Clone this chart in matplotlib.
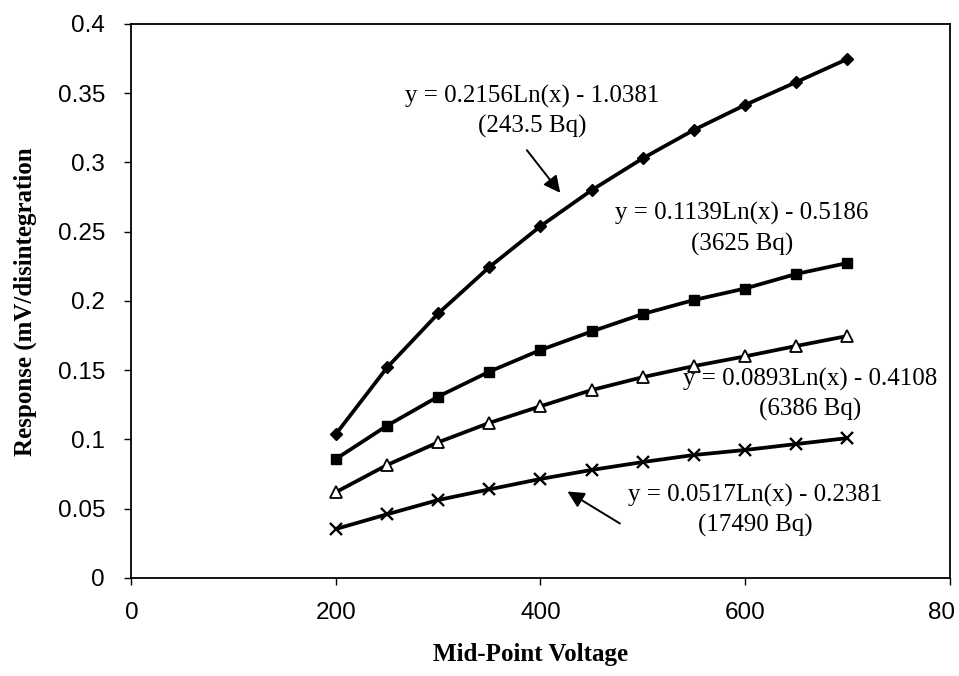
import matplotlib
matplotlib.use("Agg")
import matplotlib.pyplot as plt
import matplotlib.transforms as mtransforms

voltage = [200, 250, 300, 350, 400, 450, 500, 550, 600, 650, 700]
resp_2435 = [0.104, 0.152, 0.191, 0.2245, 0.254, 0.280, 0.303, 0.3235, 0.3415, 0.358, 0.3747]
resp_3625 = [0.086, 0.110, 0.131, 0.149, 0.1646, 0.178, 0.1906, 0.2007, 0.209, 0.2195, 0.2274]
resp_6386 = [0.062, 0.0816, 0.098, 0.112, 0.124, 0.1357, 0.145, 0.153, 0.160, 0.1675, 0.1747]
resp_17490 = [0.0354, 0.046, 0.0563, 0.064, 0.0715, 0.078, 0.0837, 0.0888, 0.0924, 0.0967, 0.101]

x_ticks = [0, 200, 400, 600, 800]
x_tick_labels = ["0", "200", "400", "600", "80"]
y_ticks = [0, 0.05, 0.1, 0.15, 0.2, 0.25, 0.3, 0.35, 0.4]
y_tick_labels = ["0", "0.05", "0.1", "0.15", "0.2", "0.25", "0.3", "0.35", "0.4"]

labels = [
    "y = 0.2156Ln(x) - 1.0381\n(243.5 Bq)",
    "y = 0.1139Ln(x) - 0.5186\n(3625 Bq)",
    "y = 0.0893Ln(x) - 0.4108\n(6386 Bq)",
    "y = 0.0517Ln(x) - 0.2381\n(17490 Bq)",
]

fig = plt.figure(figsize=(9.59, 6.76), dpi=100)
ax = fig.add_axes([0.1371, 0.145, 0.853, 0.8195])

lw = 2.7
ax.plot(voltage, resp_2435, color="black", lw=lw, marker="D", ms=6.5, mfc="black", mec="black")
ax.plot(voltage, resp_3625, color="black", lw=lw, marker="s", ms=7, mfc="black", mec="black")
ax.plot(voltage, resp_6386, color="black", lw=lw, marker="^", ms=8, mfc="white", mec="black", mew=1.3)
ax.plot(voltage, resp_17490, color="black", lw=lw, marker="x", ms=8, mec="black", mew=1.7)

ax.set_xlim(0, 800)
ax.set_ylim(0, 0.4)
ax.set_xticks(x_ticks)
ax.set_xticklabels(x_tick_labels)
ax.set_yticks(y_ticks)
ax.set_yticklabels(y_tick_labels)
for lab in ax.get_xticklabels() + ax.get_yticklabels():
    lab.set_fontfamily("Liberation Sans")
    lab.set_fontsize(17.5)
ax.tick_params(axis="both", direction="out", length=5, width=1, color="black")
ax.tick_params(axis="x", pad=12)
ax.tick_params(axis="y", pad=14)
last = ax.get_xticklabels()[-1]
last.set_transform(last.get_transform() + mtransforms.ScaledTranslation(-6 / 72, 0, fig.dpi_scale_trans))
for s in ax.spines.values():
    s.set_linewidth(1.3)
    s.set_color("black")

ax.set_xlabel("Mid-Point Voltage", fontfamily="Liberation Serif", fontweight="bold", fontsize=18)
ax.xaxis.label.set_verticalalignment("center")
ax.xaxis.set_label_coords(0.488, -0.139)
ax.set_ylabel("Response (mV/disintegration", fontfamily="Liberation Serif", fontweight="bold", fontsize=18)
ax.yaxis.label.set_verticalalignment("center")
ax.yaxis.set_label_coords(-0.130, 0.498)

tfont = dict(fontfamily="Liberation Serif", fontsize=18, ha="center", va="center", linespacing=1.4)
ax.text(391.7, 0.3368, labels[0], **tfont)
ax.text(597, 0.252, labels[1], **tfont)
ax.text(663.5, 0.1325, labels[2], **tfont)
ax.text(609.7, 0.0487, labels[3], **tfont)

arrow = dict(arrowstyle="-|>,head_length=1.0,head_width=0.5", color="black", lw=1.4)
ax.annotate("", xy=(421, 0.2765), xytext=(385, 0.3105), arrowprops=arrow)
ax.annotate("", xy=(424, 0.0635), xytext=(480, 0.0383), arrowprops=arrow)

fig.savefig("out.png", dpi=100)
